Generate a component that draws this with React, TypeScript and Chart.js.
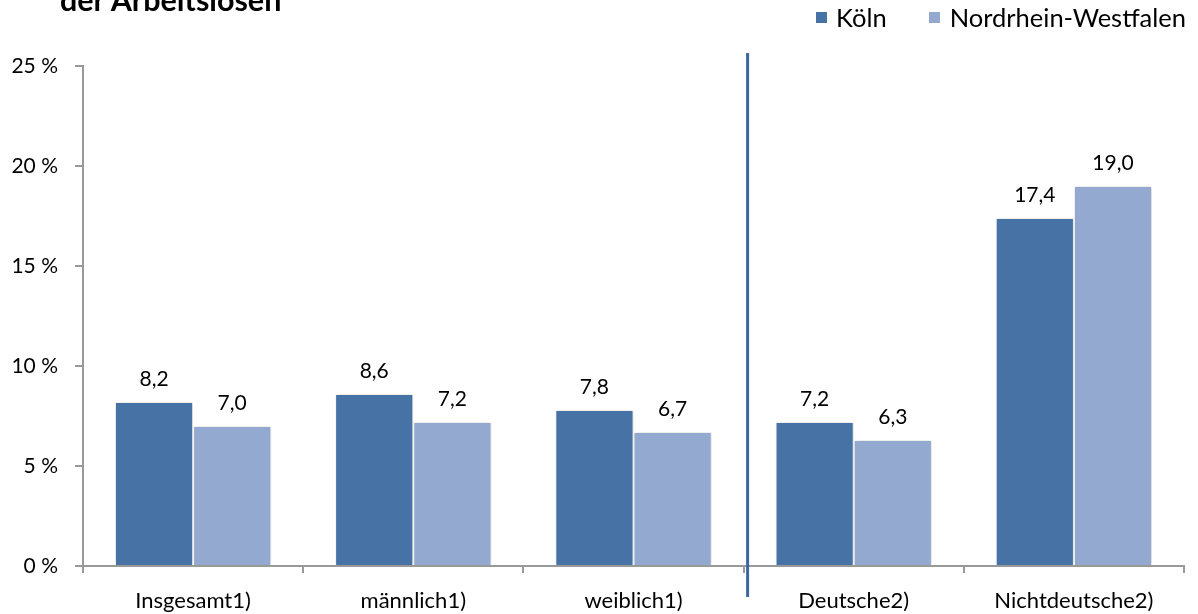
import React, { useEffect, useRef } from "react";
import { Chart, registerables } from "chart.js";

Chart.register(...registerables);

const categories = ["Insgesamt1)", "männlich1)", "weiblich1)", "Deutsche2)", "Nichtdeutsche2)"];
const koelnValues = [8.2, 8.6, 7.8, 7.2, 17.4];
const nrwValues = [7.0, 7.2, 6.7, 6.3, 19.0];
const seriesNames = ["Köln", "Nordrhein-Westfalen"];
const titleText = "der Arbeitslosen";
const yTicks = [0, 5, 10, 15, 20, 25];

const KOELN = "#4672A6";
const NRW = "#94A9D0";
const FONT = "Lato, 'Open Sans', sans-serif";

const shadowPlugin = {
  id: "barShadow",
  beforeDatasetDraw(chart: any) {
    const ctx = chart.ctx;
    ctx.save();
    ctx.shadowColor = "rgba(0,0,0,0.18)";
    ctx.shadowBlur = 4;
    ctx.shadowOffsetX = 1;
    ctx.shadowOffsetY = 0;
  },
  afterDatasetDraw(chart: any) {
    chart.ctx.restore();
  },
};

const valueLabelPlugin = {
  id: "valueLabels",
  afterDatasetsDraw(chart: any) {
    const ctx = chart.ctx;
    ctx.save();
    ctx.font = `21px ${FONT}`;
    ctx.fillStyle = "#000";
    ctx.textAlign = "center";
    ctx.textBaseline = "middle";
    chart.data.datasets.forEach((ds: any, di: number) => {
      const meta = chart.getDatasetMeta(di);
      meta.data.forEach((bar: any, i: number) => {
        const v = ds.data[i] as number;
        ctx.fillText(v.toFixed(1).replace(".", ","), bar.x, bar.y - 23);
      });
    });
    ctx.restore();
  },
};

const separatorPlugin = {
  id: "separator",
  afterDraw(chart: any) {
    const x = chart.scales.x;
    const y = chart.scales.y;
    const px = (x.getPixelForValue(2) + x.getPixelForValue(3)) / 2 + 4;
    const ctx = chart.ctx;
    ctx.save();
    ctx.strokeStyle = "#3D66A0";
    ctx.lineWidth = 3;
    ctx.beginPath();
    ctx.moveTo(px, y.top - 13);
    ctx.lineTo(px, y.bottom + 31);
    ctx.stroke();
    ctx.restore();
  },
};

export default function App() {
  const ref = useRef<HTMLCanvasElement | null>(null);

  useEffect(() => {
    document.body.style.margin = "0";
    if (!ref.current) return;
    const chart = new Chart(ref.current, {
      type: "bar",
      data: {
        labels: categories,
        datasets: [
          {
            label: seriesNames[0],
            data: koelnValues,
            backgroundColor: KOELN,
            borderColor: "#ffffff",
            borderWidth: { left: 1, right: 1, top: 1, bottom: 0 },
            borderSkipped: false,
            categoryPercentage: 0.71,
            barPercentage: 1,
          },
          {
            label: seriesNames[1],
            data: nrwValues,
            backgroundColor: NRW,
            borderColor: "#ffffff",
            borderWidth: { left: 1, right: 1, top: 1, bottom: 0 },
            borderSkipped: false,
            categoryPercentage: 0.71,
            barPercentage: 1,
          },
        ],
      },
      options: {
        animation: false,
        responsive: false,
        maintainAspectRatio: false,
        layout: { padding: { top: 66, right: 14, bottom: 0, left: 0 } },
        plugins: {
          legend: { display: false },
          tooltip: { enabled: false },
          title: { display: false },
        },
        scales: {
          x: {
            grid: {
              offset: true,
              drawOnChartArea: false,
              drawTicks: true,
              tickLength: 7,
              color: "#999",
              lineWidth: 2,
            },
            border: { color: "#999", width: 2 },
            ticks: {
              color: "#000",
              font: { family: FONT, size: 22 },
              padding: 15,
              maxRotation: 0,
            },
            afterFit: (s: any) => {
              s.height = 48;
            },
          },
          y: {
            min: 0,
            max: 25,
            afterBuildTicks: (s: any) => {
              s.ticks = yTicks.map((v) => ({ value: v }));
            },
            grid: {
              drawOnChartArea: false,
              drawTicks: true,
              tickLength: 8,
              color: "#999",
              lineWidth: 2,
            },
            border: { color: "#999", width: 2 },
            ticks: {
              color: "#000",
              font: { family: FONT, size: 21 },
              padding: 17,
              callback: (v: any) => `${v} %`,
            },
            afterFit: (s: any) => {
              s.width = 83;
            },
          },
        },
      },
      plugins: [shadowPlugin, valueLabelPlugin, separatorPlugin],
    });
    return () => chart.destroy();
  }, []);

  return (
    <div style={{ position: "relative", width: 1198, height: 614, overflow: "hidden", background: "#fff" }}>
      <canvas ref={ref} width={1198} height={614} style={{ position: "absolute", left: 0, top: 0 }} />
      <div
        style={{
          position: "absolute",
          left: 60,
          top: -19,
          fontFamily: FONT,
          fontWeight: 700,
          fontSize: 30.5,
          lineHeight: "36px",
          color: "#000",
          whiteSpace: "nowrap",
        }}
      >
        {titleText}
      </div>
      <div
        style={{
          position: "absolute",
          right: 12,
          top: 2,
          display: "flex",
          alignItems: "center",
          fontFamily: FONT,
          fontSize: 25.5,
          lineHeight: "30px",
          color: "#000",
          whiteSpace: "nowrap",
        }}
      >
        <span style={{ display: "inline-block", width: 11, height: 11, background: KOELN, marginRight: 9 }} />
        <span style={{ marginRight: 42 }}>{seriesNames[0]}</span>
        <span style={{ display: "inline-block", width: 11, height: 11, background: NRW, marginRight: 10 }} />
        <span>{seriesNames[1]}</span>
      </div>
    </div>
  );
}
